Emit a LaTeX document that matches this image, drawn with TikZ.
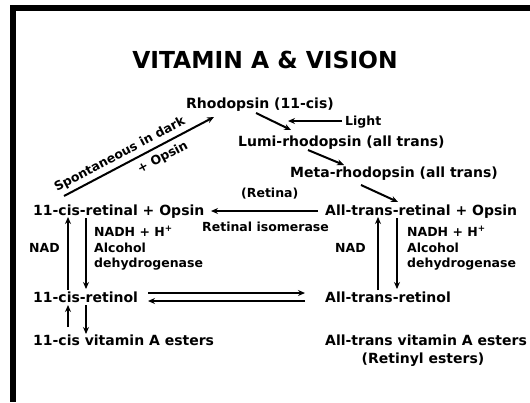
\documentclass[tikz,border=0pt]{standalone}
\usepackage{fontspec}
\setmainfont{DejaVu Sans}
\usetikzlibrary{arrows.meta}
\begin{document}
\begin{tikzpicture}[x=1pt,y=-1pt,
  titlefont/.style={font=\fontsize{23.4}{24}\selectfont\bfseries, inner sep=0pt, anchor=base},
  mainlbl/.style={font=\fontsize{14}{14}\selectfont\bfseries, inner sep=0pt, anchor=base west},
  smalllbl/.style={font=\fontsize{12.5}{12.5}\selectfont\bfseries, inner sep=0pt, anchor=base west},
  arr/.style={line width=2pt, -{Stealth[length=7pt,width=6pt]}},
  framebar/.style={fill=black}
]
\useasboundingbox (0,0) rectangle (530,402);
\fill[framebar] (10,5) rectangle (530,11);
\fill[framebar] (10,5) rectangle (16,402);

% title
\node[titlefont] (title) at (265,68) {VITAMIN A \& VISION};

% labels
\node[mainlbl] (rho) at (186,108) {Rhodopsin (11-cis)};
\node[smalllbl] (light) at (345,125) {Light};
\node[mainlbl] (lumi) at (238,146) {Lumi-rhodopsin (all trans)};
\node[mainlbl] (meta) at (290,177) {Meta-rhodopsin (all trans)};
\node[mainlbl] (atral) at (325,215) {All-trans-retinal + Opsin};
\node[mainlbl] (cral) at (33,215) {11-cis-retinal + Opsin};
\node[smalllbl] (retina) at (241,197) {(Retina)};
\node[smalllbl] (iso) at (202,231) {Retinal isomerase};
\node[smalllbl, rotate=28] (spont) at (57,192) {Spontaneous in dark};
\node[smalllbl, rotate=28] (plusops) at (140,174) {+ Opsin};

\node[smalllbl] (nadl) at (29,252) {NAD};
\node[smalllbl] (nadhl) at (94,236) {NADH + H\textsuperscript{+}};
\node[smalllbl] (alcl) at (94,252) {Alcohol};
\node[smalllbl] (dehl) at (94,267) {dehydrogenase};
\node[smalllbl] (nadr) at (335,252) {NAD};
\node[smalllbl] (nadhr) at (407,236) {NADH + H\textsuperscript{+}};
\node[smalllbl] (alcr) at (407,252) {Alcohol};
\node[smalllbl] (dehr) at (407,267) {dehydrogenase};

\node[mainlbl] (crol) at (33,302) {11-cis-retinol};
\node[mainlbl] (atrol) at (325,302) {All-trans-retinol};
\node[mainlbl] (cest) at (33,345) {11-cis vitamin A esters};
\node[mainlbl] (atest) at (325,345) {All-trans vitamin A esters};
\node[mainlbl, anchor=base] (retest) at (423,363) {(Retinyl esters)};

% arrow endpoints
\coordinate (rhoOut) at (256,113);
\coordinate (lumiIn) at (291,130);
\coordinate (lightOut) at (342,121);
\coordinate (lightIn) at (288,121);
\coordinate (lumiOut) at (308,150);
\coordinate (metaIn) at (344,165);
\coordinate (metaOut) at (361,185);
\coordinate (atralIn) at (398,202);
\coordinate (atralOut) at (318,211);
\coordinate (cralIn) at (211,211);
\coordinate (cralOut) at (64,196);
\coordinate (rhoIn) at (214,117);

\coordinate (cUpB) at (68,290);
\coordinate (cUpT) at (68,217);
\coordinate (cDnT) at (86,218);
\coordinate (cDnB) at (86,289);
\coordinate (cUp2B) at (68,327);
\coordinate (cUp2T) at (68,305);
\coordinate (cDn2T) at (86,305);
\coordinate (cDn2B) at (86,334);

\coordinate (aUpB) at (378,290);
\coordinate (aUpT) at (378,217);
\coordinate (aDnT) at (397,218);
\coordinate (aDnB) at (397,289);

\coordinate (hTopL) at (148,293);
\coordinate (hTopR) at (305,293);
\coordinate (hBotR) at (305,301);
\coordinate (hBotL) at (148,301);

% arrows
\draw[arr] (rhoOut) -- (lumiIn);
\draw[arr] (lightOut) -- (lightIn);
\draw[arr] (lumiOut) -- (metaIn);
\draw[arr] (metaOut) -- (atralIn);
\draw[arr] (atralOut) -- (cralIn);
\draw[arr] (cralOut) -- (rhoIn);

\draw[arr] (cUpB) -- (cUpT);
\draw[arr] (cDnT) -- (cDnB);
\draw[arr] (cUp2B) -- (cUp2T);
\draw[arr] (cDn2T) -- (cDn2B);
\draw[arr] (aUpB) -- (aUpT);
\draw[arr] (aDnT) -- (aDnB);

\draw[arr] (hTopL) -- (hTopR);
\draw[arr] (hBotR) -- (hBotL);
\end{tikzpicture}
\end{document}
